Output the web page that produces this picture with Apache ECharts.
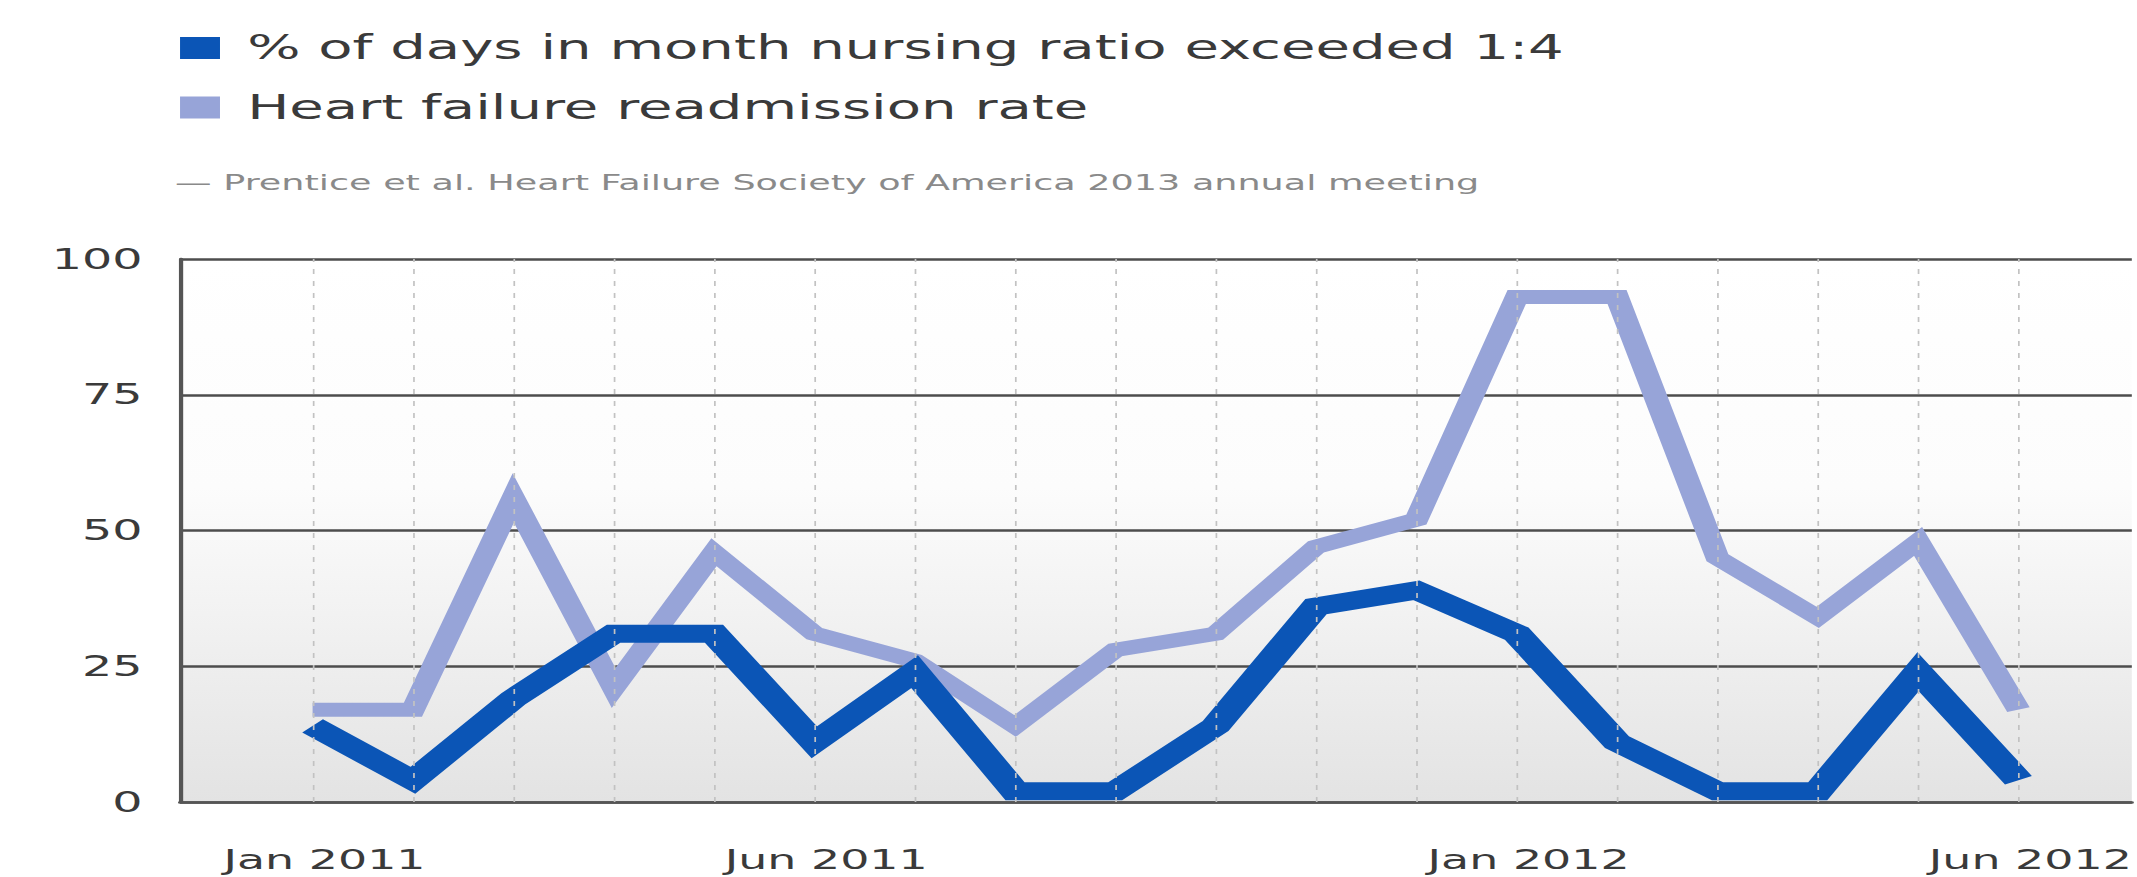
<!DOCTYPE html>
<html><head><meta charset="utf-8">
<script src="https://cdn.jsdelivr.net/npm/echarts@6/dist/echarts.min.js"></script>
<style>
html,body{margin:0;padding:0;background:#fff;overflow:hidden;width:2137px;height:877px}
#wrap{width:2137px;height:877px;overflow:hidden;position:relative}
#chart{width:1257px;height:877px;transform-origin:0 0;}
</style></head><body><div id="wrap"><div id="chart"></div></div>
<script>
// ---- data ----
const months = ['Jan 2011','Feb 2011','Mar 2011','Apr 2011','May 2011','Jun 2011','Jul 2011','Aug 2011','Sep 2011','Oct 2011','Nov 2011','Dec 2011','Jan 2012','Feb 2012','Mar 2012','Apr 2012','May 2012','Jun 2012'];
const nursingRatioExceeded = [14, 4, 19, 31, 31, 11, 24, 2, 2, 14, 36, 39, 31, 11, 2, 2, 24, 4];
const hfReadmissionRate   = [17, 17, 56, 21, 46, 31, 26, 14, 28, 31, 47, 52, 93, 93, 45, 34, 48, 17];
const xTickLabels = ['Jan 2011', 'Jun 2011', 'Jan 2012', 'Jun 2012'];
const yTicks = [0, 25, 50, 75, 100];
const seriesNames = ['% of days in month nursing ratio exceeded 1:4', 'Heart failure readmission rate'];
const sourceNote = '\u2014 Prentice et al. Heart Failure Society of America 2013 annual meeting';

// ---- layout (the original image is horizontally stretched) ----
const W = 1257, S = 2137 / W;
const el = document.getElementById('chart');
el.style.transform = 'scaleX(' + S + ')';
const chart = echarts.init(el, null, {renderer: 'svg'});

const idx = months.map((m, i) => i);
const FONT = 'DejaVu Sans';

chart.setOption({
  animation: false,
  backgroundColor: '#ffffff',
  title: {
    text: sourceNote,
    left: 103, top: 171, padding: 0,
    textStyle: {fontFamily: FONT, fontSize: 21.5, fontWeight: 'normal', color: '#8a8a8a'}
  },
  legend: {
    data: seriesNames,
    orient: 'vertical',
    left: 105.9, top: 28, padding: 0,
    icon: 'rect',
    itemWidth: 23.5, itemHeight: 22, itemGap: 19.5,
    textStyle: {fontFamily: FONT, fontSize: 33, color: '#3a3a3a', lineHeight: 40, padding: [0, 0, 0, 11]}
  },
  grid: {
    left: 105.9, right: 0, top: 259, bottom: 75,
    show: true, borderWidth: 0,
    backgroundColor: {type: 'linear', x: 0, y: 0, x2: 0, y2: 1,
      colorStops: [{offset: 0, color: '#ffffff'}, {offset: 0.42, color: '#fcfcfc'}, {offset: 1, color: '#e3e3e3'}]}
  },
  xAxis: {
    type: 'value',
    min: -1.321, max: 18.13,
    axisLine: {show: true, onZero: false, lineStyle: {color: '#555555', width: 2.5}},
    axisTick: {show: false},
    splitLine: {show: false},
    axisLabel: {
      customValues: xTickLabels.map(l => months.indexOf(l)),
      formatter: v => months[Math.round(v)],
      fontFamily: FONT, fontSize: 27, color: '#3a3a3a', margin: 44,
      padding: [0, 0, 0, 14]
    }
  },
  yAxis: {
    type: 'value',
    min: yTicks[0], max: yTicks[yTicks.length - 1], interval: 25,
    axisLine: {show: true, onZero: false, lineStyle: {color: '#555555', width: 2.5}},
    axisTick: {show: false},
    splitLine: {show: true, lineStyle: {color: '#4d4d4d', width: 2.5}},
    axisLabel: {fontFamily: FONT, fontSize: 28, color: '#3a3a3a', margin: 22}
  },
  series: [
    {
      name: 'month grid', type: 'line', data: [], z: 1, silent: true,
      markLine: {
        silent: true, symbol: 'none', label: {show: false},
        lineStyle: {color: '#c2c2c2', width: 1, type: [5, 7]},
        data: idx.map(i => ({xAxis: i}))
      }
    },
    {
      name: seriesNames[1], type: 'line', z: 3,
      data: hfReadmissionRate.map((v, i) => [i, v]),
      showSymbol: false, symbol: 'none',
      itemStyle: {color: '#97a4d8'},
      lineStyle: {color: '#97a4d8', width: 14, join: 'miter', cap: 'butt'}
    },
    {
      name: seriesNames[0], type: 'line', z: 4,
      data: nursingRatioExceeded.map((v, i) => [i, v]),
      showSymbol: false, symbol: 'none',
      itemStyle: {color: '#0b55b6'},
      lineStyle: {color: '#0b55b6', width: 18, join: 'miter', cap: 'butt'}
    }
  ]
});
</script></body></html>
